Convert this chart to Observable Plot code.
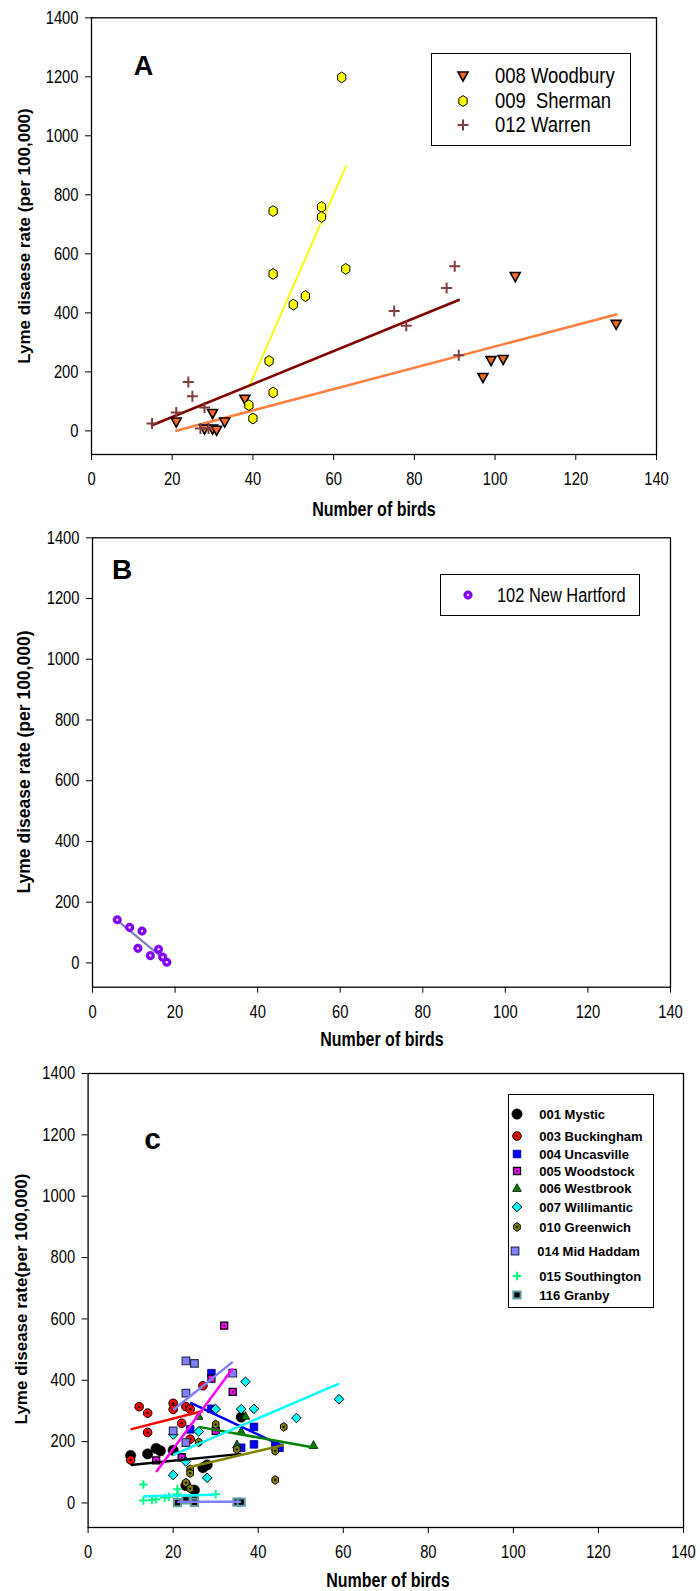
<!DOCTYPE html>
<html>
<head>
<meta charset="utf-8">
<script src="https://cdn.jsdelivr.net/npm/d3@7"></script>
<script src="https://cdn.jsdelivr.net/npm/@observablehq/plot@0.6"></script>
<style>
  body { margin: 0; background: #fff; }
  #wrap { position: relative; width: 700px; height: 1591px; overflow: hidden; background: #fff; }
  #wrap > svg { position: absolute; left: 0; }
  .t { position: absolute; white-space: pre; line-height: 1; color: #000; font-family: "Liberation Sans", Arial, sans-serif; }
  .ytitle { font-weight: bold; font-size: 17px; transform: translate(-50%, -50%) rotate(-90deg); }
  .xtitle { font-weight: bold; font-size: 19.5px; transform: translate(-50%, -50%) scaleX(0.82); }
  .box { position: absolute; border: 1.5px solid #000; box-sizing: border-box; background: #fff; }
  .leg { transform-origin: left center; transform: translateY(-50%); }
  .legn { transform-origin: left center; transform: translateY(-50%) scaleX(0.82); }
</style>
</head>
<body>
<div id="wrap"></div>
<script>
// ---------------- data ----------------
const xTicks = [0, 20, 40, 60, 80, 100, 120, 140];
const yTicks = [0, 200, 400, 600, 800, 1000, 1200, 1400];

// Panel A
const woodburyX = [21, 30, 28, 30, 31, 33, 38, 97, 99, 102, 105, 130];
const woodburyY = [30, 59, 6, 6, 2, 30, 107, 181, 238, 242, 523, 361];
const shermanX = [62, 45, 57, 57, 63, 45, 53, 50, 44, 45, 39, 40];
const shermanY = [1198, 745, 759, 725, 549, 532, 457, 428, 237, 130, 87, 42];
const warrenX = [15, 21, 24, 25, 28, 27, 29, 75, 78, 88, 90, 91];
const warrenY = [25, 62, 166, 117, 79, 8, 8, 406, 356, 484, 558, 256];

// Panel B
const newHartfordX = [6, 9, 12, 11, 14, 16, 17, 18];
const newHartfordY = [142, 117, 105, 48, 24, 45, 19, 2];

// Panel C
const mysticX = [10, 14, 16, 17, 20, 27, 28, 23, 25, 36];
const mysticY = [155, 160, 178, 170, 172, 115, 124, 57, 42, 280];
const buckinghamX = [10, 12, 14, 14, 20, 20, 22, 23, 24, 24, 27];
const buckinghamY = [140, 314, 293, 230, 325, 305, 260, 314, 306, 208, 382];
const uncasvilleX = [29, 29, 24, 39, 39, 36, 44, 45];
const uncasvilleY = [423, 307, 240, 248, 191, 180, 186, 180];
const woodstockX = [32, 29, 34, 30, 22, 16];
const woodstockY = [578, 405, 362, 235, 149, 139];
const westbrookX = [26, 37, 36, 35, 53];
const westbrookY = [284, 284, 234, 191, 189];
const willimanticX = [37, 36, 39, 30, 26, 20, 23, 20, 28, 49, 59];
const willimanticY = [395, 306, 307, 306, 233, 223, 135, 91, 82, 277, 338];
const greenwichX = [30, 46, 26, 35, 44, 24, 24, 23, 24, 44];
const greenwichY = [256, 248, 198, 175, 170, 110, 97, 66, 47, 75];
const midHaddamX = [23, 25, 34, 23, 20, 23];
const midHaddamY = [463, 455, 423, 358, 235, 197];
const southingtonX = [13, 13, 15, 16, 18, 19, 21, 21, 30];
const southingtonY = [60, 8, 10, 12, 17, 20, 45, 28, 28];
const granbyX = [21, 23, 25, 25, 35, 36];
const granbyY = [1, 10, 12, 2, 3, 3];

// Panel C fitted lines (start / end)
const trendTown = ["001 Mystic", "003 Buckingham", "004 Uncasville", "005 Woodstock", "006 Westbrook",
                   "007 Willimantic", "010 Greenwich", "014 Mid Haddam", "015 Southington", "116 Granby"];
const trendX1 = [10, 10, 24, 16, 26, 20, 24, 20, 13, 21];
const trendY1 = [124, 240, 327, 101, 248, 157, 117, 303, 22, 4];
const trendX2 = [36, 27, 45, 34, 53, 59, 46, 34, 30, 36];
const trendY2 = [160, 300, 190, 438, 181, 389, 189, 460, 27, 4];

// ---------------- symbols & styles ----------------
const R = s => Math.sqrt(s / Math.PI);
const sym = {
  triDown: {draw(c, s) { const r = R(s); c.moveTo(-r, -0.8 * r); c.lineTo(r, -0.8 * r); c.lineTo(0, r); c.closePath(); }},
  triUp: {draw(c, s) { const r = R(s); c.moveTo(-r, 0.8 * r); c.lineTo(r, 0.8 * r); c.lineTo(0, -r); c.closePath(); }},
  hex: {draw(c, s) { const r = R(s); for (let i = 0; i < 6; i++) { const a = Math.PI / 2 + i * Math.PI / 3; const x = Math.cos(a) * r * 0.95, y = Math.sin(a) * r * 1.08; if (i) c.lineTo(x, y); else c.moveTo(x, y); } c.closePath(); }},
  plus: {draw(c, s) { const r = R(s); c.moveTo(-r, 0); c.lineTo(r, 0); c.moveTo(0, -r); c.lineTo(0, r); }},
  diamond: {draw(c, s) { const r = R(s); c.moveTo(0, -r); c.lineTo(r, 0); c.lineTo(0, r); c.lineTo(-r, 0); c.closePath(); }},
  square: {draw(c, s) { const r = R(s); c.rect(-r, -r, 2 * r, 2 * r); }},
  circle: {draw(c, s) { const r = R(s); c.moveTo(r, 0); c.arc(0, 0, r, 0, 2 * Math.PI); }}
};

const ARIAL = '"Liberation Sans",Arial,sans-serif';
const CONDENSE = 0.82;

const styleA = {
  "008 Woodbury": {symbol: sym.triDown, r: 5, fill: "#FF6A1A", stroke: "#000", sw: 1.6, line: "#FF8040"},
  "009  Sherman": {symbol: sym.hex, r: 5, fill: "#FFFF00", stroke: "#000", sw: 1, line: "#FFFF00"},
  "012 Warren": {symbol: sym.plus, r: 5.5, fill: "none", stroke: "#7F3F3F", sw: 2, line: "#800000"}
};
const styleB = {
  "102 New Hartford": {symbol: sym.circle, r: 4.3, fill: "#8000FF", stroke: "#7000E0", sw: 0.5, dot: "#E8D0FF", dotR: 1.3, line: "#8080C0"}
};
const styleC = {
  "001 Mystic": {symbol: sym.circle, r: 5.2, fill: "#000", stroke: "#000", sw: 0.5, line: "#000"},
  "003 Buckingham": {symbol: sym.circle, r: 4.3, fill: "#FF0000", stroke: "#000", sw: 1, dot: "#000", dotR: 1.2, line: "#FF0000"},
  "004 Uncasville": {symbol: sym.square, r: 3.8, fill: "#0000FF", stroke: "#000080", sw: 0.8, line: "#0000FF"},
  "005 Woodstock": {symbol: sym.square, r: 3.5, fill: "#FF00FF", stroke: "#000", sw: 1.3, dot: "#000", dotR: 1, line: "#FF00FF"},
  "006 Westbrook": {symbol: sym.triUp, r: 4.3, fill: "#008000", stroke: "#000", sw: 0.8, line: "#008000"},
  "007 Willimantic": {symbol: sym.diamond, r: 4.8, fill: "#00FFFF", stroke: "#000", sw: 1, line: "#00FFFF"},
  "010 Greenwich": {symbol: sym.hex, r: 4, fill: "#808000", stroke: "#000", sw: 1, dot: "#000", dotR: 1.1, line: "#808000"},
  "014 Mid Haddam": {symbol: sym.square, r: 3.8, fill: "#8080FF", stroke: "#303050", sw: 1.2, line: "#8080FF"},
  "015 Southington": {symbol: sym.plus, r: 4.3, fill: "none", stroke: "#00FF7F", sw: 2, line: "#00FFFF"},
  "116 Granby": {symbol: sym.square, r: 3.6, fill: "#000", stroke: "#5F9EA0", sw: 2, line: "#8080FF"}
};

// ---------------- tables ----------------
const zipXY = (xs, ys, town) => xs.map((x, i) => ({x, y: ys[i], town}));
const dataA = [
  ...zipXY(woodburyX, woodburyY, "008 Woodbury"),
  ...zipXY(shermanX, shermanY, "009  Sherman"),
  ...zipXY(warrenX, warrenY, "012 Warren")
];
const dataB = zipXY(newHartfordX, newHartfordY, "102 New Hartford");
const dataC = [
  ...zipXY(mysticX, mysticY, "001 Mystic"),
  ...zipXY(buckinghamX, buckinghamY, "003 Buckingham"),
  ...zipXY(uncasvilleX, uncasvilleY, "004 Uncasville"),
  ...zipXY(woodstockX, woodstockY, "005 Woodstock"),
  ...zipXY(westbrookX, westbrookY, "006 Westbrook"),
  ...zipXY(willimanticX, willimanticY, "007 Willimantic"),
  ...zipXY(greenwichX, greenwichY, "010 Greenwich"),
  ...zipXY(midHaddamX, midHaddamY, "014 Mid Haddam"),
  ...zipXY(southingtonX, southingtonY, "015 Southington"),
  ...zipXY(granbyX, granbyY, "116 Granby")
];
const trendsC = trendTown.map((town, i) => ({town, x1: trendX1[i], y1: trendY1[i], x2: trendX2[i], y2: trendY2[i]}));

// ---------------- helpers ----------------
const wrap = document.getElementById("wrap");
function dotMarks(data, styles) {
  const marks = [];
  for (const [town, s] of Object.entries(styles)) {
    const d = data.filter(p => p.town === town);
    marks.push(Plot.dot(d, {x: "x", y: "y", symbol: s.symbol, r: s.r, fill: s.fill, stroke: s.stroke, strokeWidth: s.sw}));
    if (s.dot) marks.push(Plot.dot(d, {x: "x", y: "y", r: s.dotR, fill: s.dot, stroke: "none"}));
  }
  return marks;
}
function regressionMarks(data, styles, widths) {
  return Object.entries(styles).map(([town, s]) =>
    Plot.linearRegressionY(data.filter(p => p.town === town), {x: "x", y: "y", stroke: s.line, strokeWidth: widths[town] || 2.5, ci: 0}));
}
// horizontally condense the tick labels (narrow face look), keeping each label's anchor in place
function condenseTicks(svg) {
  d3.select(svg).selectAll('g[aria-label="x-axis tick label"] text, g[aria-label="y-axis tick label"] text').each(function () {
    this.setAttribute("transform", `${this.getAttribute("transform") || ""} scale(${CONDENSE},1)`);
  });
}
function makePanel(cfg, marks) {
  const svg = Plot.plot({
    width: 700, height: cfg.h,
    marginTop: cfg.mt, marginBottom: cfg.mb, marginLeft: cfg.ml, marginRight: cfg.mr,
    x: {domain: [0, 140]},
    y: {domain: [-80, 1400]},
    style: {fontFamily: ARIAL, fontSize: "18px", color: "#000", background: "none", overflow: "visible"},
    marks: [
      Plot.axisX({ticks: xTicks, tickSize: 6, tickPadding: 12, label: null, tickFormat: d => String(d)}),
      Plot.axisY({ticks: yTicks, tickSize: 6, tickPadding: 7, label: null, tickFormat: d => String(d)}),
      ...marks,
      Plot.frame({stroke: "#000", strokeWidth: 1.3}),
      Plot.text([cfg.letter], {frameAnchor: "top-left", text: d => d, dx: cfg.ldx, dy: cfg.ldy,
        fontSize: cfg.lsize, fontWeight: "bold", fontFamily: ARIAL, textAnchor: "middle", lineAnchor: "middle", fill: "#000"})
    ]
  });
  condenseTicks(svg);
  svg.style.top = cfg.top + "px";
  wrap.append(svg);
}
function addText(cls, txt, left, top, extra) {
  const d = document.createElement("div");
  d.className = "t " + cls;
  d.textContent = txt;
  d.style.left = left + "px";
  d.style.top = top + "px";
  if (extra) Object.assign(d.style, extra);
  wrap.append(d);
}
function addBox(l, t, w, h) {
  const d = document.createElement("div");
  d.className = "box";
  Object.assign(d.style, {left: l + "px", top: t + "px", width: w + "px", height: h + "px"});
  wrap.append(d);
}
function addSym(s, cx, cy) {
  const size = 24;
  const svg = d3.create("svg").attr("width", size).attr("height", size)
    .style("position", "absolute").style("left", (cx - size / 2) + "px").style("top", (cy - size / 2) + "px").style("overflow", "visible");
  const g = svg.append("g").attr("transform", `translate(${size / 2},${size / 2})`);
  g.append("path").attr("d", d3.symbol(s.symbol, Math.PI * s.r * s.r)())
    .attr("fill", s.fill).attr("stroke", s.stroke).attr("stroke-width", s.sw);
  if (s.dot) g.append("circle").attr("r", s.dotR).attr("fill", s.dot);
  wrap.append(svg.node());
}

// ---------------- Panel A ----------------
makePanel({top: 0, h: 520, mt: 17.3, mb: 66, ml: 91, mr: 44, letter: "A", ldx: 52, ldy: 49, lsize: 27}, [
  ...regressionMarks(dataA, styleA, {"008 Woodbury": 2.6, "009  Sherman": 2, "012 Warren": 2.6}),
  ...dotMarks(dataA, styleA)
]);
addText("ytitle", "Lyme disaese rate (per 100,000)", 24, 236);
addText("xtitle", "Number of birds", 374, 510);
addBox(431, 53, 200, 93);
[["008 Woodbury", 76], ["009  Sherman", 100.5], ["012 Warren", 125]].forEach(([k, cy]) => {
  addSym(styleA[k], 462.5, cy);
  addText("legn", k, 494.5, cy, {fontSize: "22.5px"});
});

// ---------------- Panel B ----------------
makePanel({top: 520, h: 520, mt: 17.3, mb: 53.3, ml: 92, mr: 30, letter: "B", ldx: 29.5, ldy: 32, lsize: 28}, [
  ...regressionMarks(dataB, styleB, {"102 New Hartford": 2.2}),
  ...dotMarks(dataB, styleB)
]);
addText("ytitle", "Lyme disease rate (per 100,000)", 24.5, 762, {fontSize: "17.5px"});
addText("xtitle", "Number of birds", 382, 1040);
addBox(440, 574, 200, 42);
addSym(styleB["102 New Hartford"], 468, 595);
addText("legn", "102 New Hartford", 497, 595, {fontSize: "20px"});

// ---------------- Panel C ----------------
makePanel({top: 1040, h: 551, mt: 33, mb: 64, ml: 87.6, mr: 17, letter: "c", ldx: 64.4, ldy: 66, lsize: 30}, [
  ...dotMarks(dataC, styleC),
  ...trendsC.map(t => Plot.link([t], {x1: "x1", y1: "y1", x2: "x2", y2: "y2", stroke: styleC[t.town].line, strokeWidth: 2.5}))
]);
addText("ytitle", "Lyme disease rate(per 100,000)", 21, 1299);
addText("xtitle", "Number of birds", 388, 1581);
addBox(508, 1093.5, 146, 214);
const legRowsC = [["001 Mystic", 1114.3], ["003 Buckingham", 1136], ["004 Uncasville", 1154], ["005 Woodstock", 1170.7],
  ["006 Westbrook", 1188.3], ["007 Willimantic", 1206.7], ["010 Greenwich", 1226.7], ["014 Mid Haddam", 1251.3],
  ["015 Southington", 1276], ["116 Granby", 1295.3]];
legRowsC.forEach(([k, cy]) => {
  const shift = k === "014 Mid Haddam" ? -2 : 0;
  addSym(styleC[k], 516.7 + shift, cy);
  addText("leg", k, 539.3 + shift, cy, {fontWeight: "bold", fontSize: "13px"});
});
</script>
</body>
</html>
